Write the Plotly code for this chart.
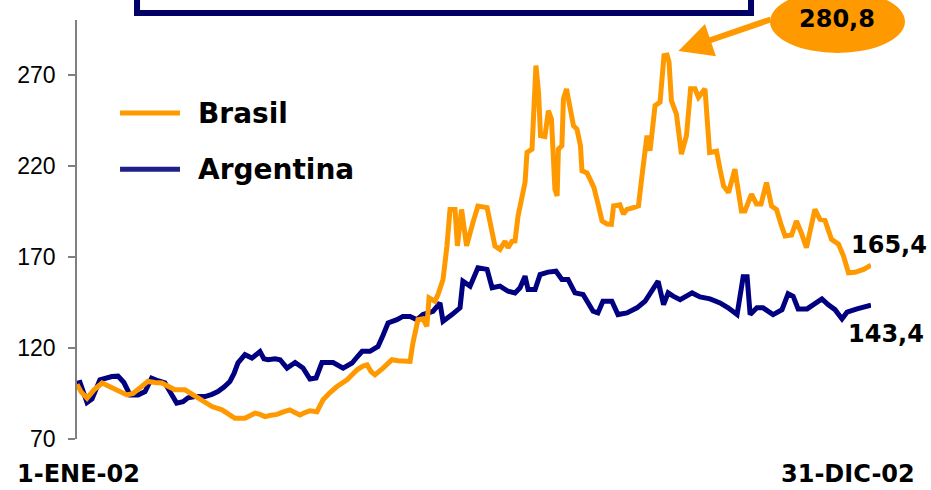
import pandas as pd
import plotly.graph_objects as go

# ---------------- data (days since 1-Jan-2002, index values) ----------------
brasil_day = [0, 1.8, 4.6, 7.8, 11.5, 14.2, 17.4, 20.2, 22.9, 25.7, 28.0, 30.3, 32.5, 35.8,
              39.0, 41.7, 44.9, 49.5, 52.3, 55.5, 58.7, 61.9, 66.5, 69.2, 72.4, 77.0, 79.3,
              81.6, 83.9, 86.2, 88.9, 91.7, 94.9, 97.6, 99.9, 102.2, 104.5, 106.8, 110.0,
              112.8, 116.0, 119.2, 123.8, 126.1, 128.4, 131.1, 133.0, 134.8, 136.6, 140.3,
              142.6, 144.4, 147.2, 149.4, 152.7, 154.0, 156.3, 158.6, 160.4, 161.4, 164.1,
              165.5, 167.8, 169.6, 171.0, 173.3, 174.4, 176.3, 178.6, 181.5, 183.8, 188.0,
              190.3, 191.6, 193.9, 196.2, 197.6, 199.4, 200.8, 202.2, 205.4, 206.3, 208.6,
              210.4, 211.6, 212.5, 214.5, 216.1, 217.5, 219.1, 220.1, 220.7, 222.3, 223.0,
              224.4, 226.0, 227.6, 229.2, 230.8, 231.5, 233.8, 235.2, 237.0, 239.1, 240.7,
              243.0, 245.0, 246.0, 248.9, 250.5, 252.1, 255.1, 257.4, 259.0, 260.4, 261.3,
              262.7, 265.0, 267.3, 269.1, 270.5, 271.4, 272.5, 274.8, 277.1, 279.4, 281.3,
              283.3, 284.9, 286.5, 287.9, 290.0, 293.2, 294.8, 296.4, 298.7, 301.6, 304.6,
              306.2, 309.2, 311.5, 313.6, 316.1, 318.4, 320.7, 322.7, 324.6, 327.6, 329.8,
              332.1, 334.4, 338.3, 340.6, 342.9, 345.9, 349.1, 351.4, 353.7, 356.7, 360.6,
              364.0]
brasil_val = [100, 96, 92.4, 97, 100.7, 99, 97, 95.5, 94.2, 95, 97, 99.5, 101.6, 101,
              100.7, 99, 97, 97, 95, 92.4, 90, 87.8, 86, 84, 81.4, 81.4, 83,
              84.2, 83.5, 82.3, 83, 83.5, 85, 86, 84.5, 83.2, 84.5, 85.5, 85,
              91.5, 95.5, 98.8, 102.5, 105, 108, 110, 110.7, 107, 105.2, 108.9,
              111.5, 113.5, 113, 113, 112.6, 122.7, 135.5, 136, 131.8, 147.5, 145.6,
              149.3, 157.6, 175.9, 196, 196, 176, 196, 176, 188.8, 197.9, 197,
              185, 176, 174.1, 178.5, 175, 178.5, 178.7, 192.4, 210.8, 227.3, 229.1,
              275, 260, 236.5, 236, 250.2, 245.7, 207.1, 203.4, 229.1, 231, 256.7,
              262.2, 252, 242, 240, 231, 217.2, 216, 212.6, 208, 197.9, 189.7,
              188, 187.8, 197.9, 198.5, 193.5, 196, 197, 198, 214.4, 225.4, 236.5,
              228.2, 253, 254.9, 280.5, 280.8, 277, 255.7, 248.4, 226.4, 236.5, 262.2,
              262.2, 257.6, 260, 262.2, 227.3, 228, 218, 208.9, 205.3, 218.1, 195.2,
              195.2, 204.4, 199, 199, 210.8, 197.9, 196, 188, 181.4, 182, 189.7,
              183, 175, 196.1, 190.6, 190, 179.6, 177, 170.4, 161.2, 161.5, 163.1,
              165.4]

argentina_day = [0, 1.4, 4.6, 6.9, 10.5, 13.3, 16.0, 18.8, 21.5, 24.3, 28.0, 31.2, 34.2,
                 37.1, 40.3, 42.6, 45.7, 48.6, 50.9, 54.1, 58.7, 61.9, 64.6, 67.4, 70.1,
                 72.0, 73.8, 77.0, 80.2, 83.9, 85.7, 87.6, 90.8, 93.1, 96.3, 100.0, 103.6,
                 106.8, 109.6, 112.3, 117.4, 122.0, 126.1, 128.4, 130.7, 134.3, 138.0,
                 140.3, 142.6, 146.7, 149.4, 152.7, 155.9, 158.6, 163.2, 166.4, 167.8,
                 171.9, 174.7, 175.6, 176.9, 180.2, 183.8, 188.0, 190.3, 193.9, 197.6,
                 200.8, 203.1, 205.4, 206.8, 210.0, 212.3, 215.9, 219.6, 222.3, 225.1,
                 228.3, 232.0, 234.3, 236.6, 238.8, 241.1, 245.2, 248.0, 252.1, 256.7,
                 260.4, 263.6, 266.4, 268.9, 271.0, 273.3, 276.5, 282.0, 285.6, 290.2,
                 294.8, 298.5, 302.6, 305.4, 307.2, 308.6, 311.7, 314.5, 319.1, 323.2,
                 326.0, 328.3, 330.6, 334.7, 338.3, 341.5, 344.3, 347.5, 350.7, 353.0,
                 357.6, 364.0]
argentina_val = [100.5, 101, 90, 92, 102.5, 103.5, 104.3, 104.5, 101, 94.2, 94.2, 96, 103.4,
                 102, 100.8, 96, 89.7, 90.5, 92.6, 93.3, 93.3, 94.5, 96, 98.5, 101.6,
                 106, 111.8, 116.3, 114.4, 118, 114, 113.5, 114, 113.5, 108.9, 112, 109,
                 102.9, 103.5, 112, 112, 108.9, 111.7, 115, 118.1, 118.1, 120.8,
                 127, 133.7, 135.5, 137.3, 137.3, 135.5, 138.3, 140.1, 144.7, 134.6,
                 138.3, 141, 142, 156.6, 153.9, 164, 163.1, 153, 153.9, 151.1,
                 150.2, 153, 159.4, 152, 152, 160.3, 161.6, 162.1, 157.6, 157.6,
                 150.2, 149.3, 144.7, 140.1, 139.2, 145.6, 145.6, 138.3, 139.2, 142,
                 145.6, 152, 156.6, 143.8, 150.2, 148.4, 146.5, 150.2, 148, 146.9,
                 144.7, 142, 138.3, 159, 159, 138.3, 142, 142, 138.3, 141,
                 149.8, 148.4, 141.4, 141.4, 144.7, 146.9, 143.8, 141, 135.9, 139.6,
                 141.4, 143.4]

y_ticks = [70, 120, 170, 220, 270]
start_label = "1-ENE-02"
end_label = "31-DIC-02"
series_names = ["Brasil", "Argentina"]

# ---------------- styling ----------------
ORANGE = "#FF9900"
NAVY = "#000080"
BOLD = "DejaVu Sans"

base = pd.Timestamp("2002-01-01")
bx = base + pd.to_timedelta(brasil_day, unit="D")
axx = base + pd.to_timedelta(argentina_day, unit="D")

fig = go.Figure()
fig.add_trace(go.Scatter(x=axx, y=argentina_val, mode="lines", name=series_names[1],
                         line=dict(color=NAVY, width=5), showlegend=False))
fig.add_trace(go.Scatter(x=bx, y=brasil_val, mode="lines", name=series_names[0],
                         line=dict(color=ORANGE, width=5), showlegend=False))

def fmt(v):
    return f"{v:.1f}".replace(".", ",")

peak_i = max(range(len(brasil_val)), key=lambda i: brasil_val[i])
peak_x = bx[peak_i]
peak_v = brasil_val[peak_i]

shapes = [
    # title box (cut off at top)
    dict(type="rect", xref="paper", yref="paper", x0=0.0756, x1=0.8489, y0=1.0167, y1=1.25,
         line=dict(color="#000066", width=6), fillcolor="white", layer="above"),
    # ellipse behind the peak value
    dict(type="circle", xref="paper", yref="paper", x0=0.8728, x1=1.0428, y0=0.9212, y1=1.0716,
         line=dict(width=0), fillcolor=ORANGE, layer="above"),
    # custom legend samples
    dict(type="line", xref="paper", yref="paper", x0=0.0542, x1=0.1297, y0=0.778, y1=0.778,
         line=dict(color=ORANGE, width=5)),
    dict(type="line", xref="paper", yref="paper", x0=0.0542, x1=0.1297, y0=0.644, y1=0.644,
         line=dict(color="#1f1f8a", width=5)),
]

annotations = [
    # arrow to the peak
    dict(x=peak_x, y=peak_v, xref="x", yref="y", text="", showarrow=True,
         ax=105, ay=-36, axref="pixel", ayref="pixel", standoff=12,
         arrowhead=2, arrowwidth=6, arrowsize=1.13, arrowcolor=ORANGE),
    dict(x=0.9578, y=1.0012, xref="paper", yref="paper", text=f"<b>{fmt(peak_v)}</b>",
         showarrow=False, xanchor="center", yanchor="middle",
         font=dict(family=BOLD, size=24, color="black")),
    # end values
    dict(x=bx[-1], y=brasil_val[-1], xref="x", yref="y", text=f"<b>{fmt(brasil_val[-1])}</b>",
         showarrow=False, xanchor="center", yanchor="middle", xshift=18, yshift=20,
         font=dict(family=BOLD, size=24, color="black")),
    dict(x=axx[-1], y=argentina_val[-1], xref="x", yref="y", text=f"<b>{fmt(argentina_val[-1])}</b>",
         showarrow=False, xanchor="center", yanchor="middle", xshift=15, yshift=-29,
         font=dict(family=BOLD, size=24, color="black")),
    # date labels
    dict(x=0.0025, y=0, xref="paper", yref="paper", text=f"<b>{start_label}</b>", showarrow=False,
         xanchor="center", yanchor="middle", yshift=-35,
         font=dict(family=BOLD, size=24, color="black")),
    dict(x=0.971, y=0, xref="paper", yref="paper", text=f"<b>{end_label}</b>", showarrow=False,
         xanchor="center", yanchor="middle", yshift=-35,
         font=dict(family=BOLD, size=24, color="black")),
    # legend texts
    dict(x=0.1499, y=0.778, xref="paper", yref="paper", text=f"<b>{series_names[0]}</b>",
         showarrow=False, xanchor="left", yanchor="middle",
         font=dict(family=BOLD, size=28, color="black")),
    dict(x=0.1499, y=0.644, xref="paper", yref="paper", text=f"<b>{series_names[1]}</b>",
         showarrow=False, xanchor="left", yanchor="middle",
         font=dict(family=BOLD, size=28, color="black")),
]

fig.update_layout(
    width=931, height=490,
    margin=dict(l=77, r=60, t=20, b=51, pad=0),
    paper_bgcolor="white", plot_bgcolor="white",
    showlegend=False,
    shapes=shapes, annotations=annotations,
    xaxis=dict(type="date", range=[base, base + pd.Timedelta(days=364)],
               showgrid=False, zeroline=False, showline=False,
               showticklabels=False, ticks=""),
    yaxis=dict(range=[70, 300], tickvals=y_ticks, ticktext=[str(t) for t in y_ticks],
               showgrid=False, zeroline=False, showline=True, linecolor="#808080", linewidth=1.5,
               ticks="outside", ticklen=7, tickcolor="#808080", tickwidth=1.5,
               ticklabelstandoff=8,
               tickfont=dict(family="Liberation Sans", size=23, color="black")),
)

fig.write_html("out.html", config={"displayModeBar": False},
               post_script="document.body.style.margin='0';document.body.style.overflow='hidden';")
